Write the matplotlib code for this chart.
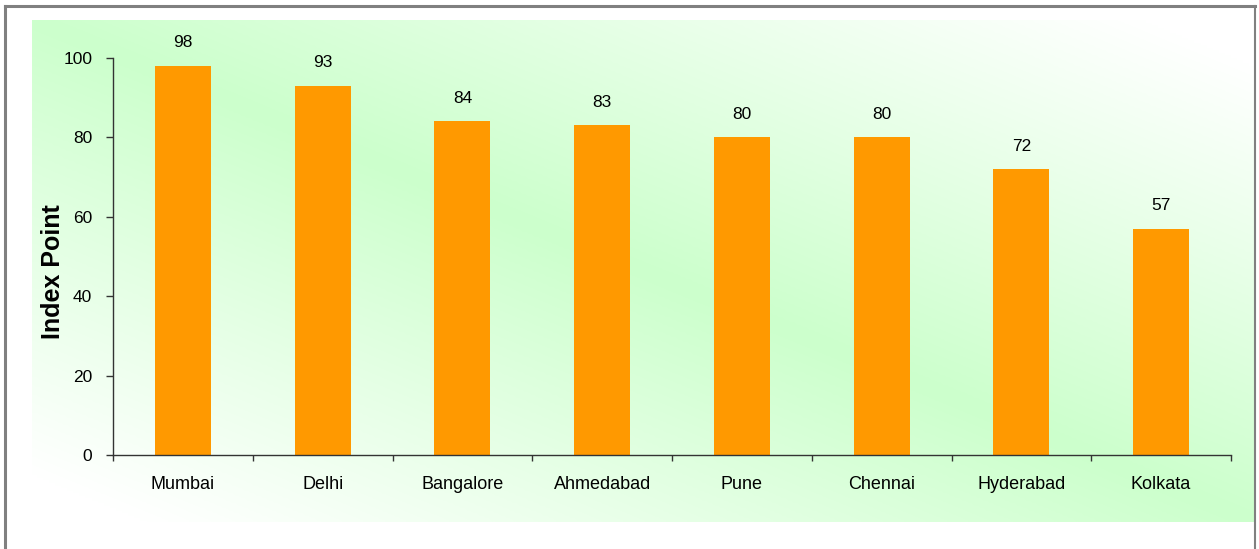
import numpy as np
import matplotlib
matplotlib.use("Agg")
import matplotlib.pyplot as plt
from matplotlib.lines import Line2D
from matplotlib.colors import LinearSegmentedColormap

cities = ["Mumbai", "Delhi", "Bangalore", "Ahmedabad", "Pune", "Chennai", "Hyderabad", "Kolkata"]
values = [98, 93, 84, 83, 80, 80, 72, 57]
yticks = [0, 20, 40, 60, 80, 100]
ylabel = "Index Point"

plt.rcParams['font.family'] = ['Liberation Sans', 'DejaVu Sans']

W, H = 1259, 549
fig = plt.figure(figsize=(W / 100, H / 100), dpi=100)

# gradient background of plot area
bx0, bx1, by0, by1 = 32, 1254, 20, 522
bg = fig.add_axes([bx0 / W, 1 - by1 / H, (bx1 - bx0) / W, (by1 - by0) / H], zorder=0)
u = np.linspace(0, 1, 400)
v = np.linspace(0, 1, 200)
U, V = np.meshgrid(u, v)
S = np.clip(np.abs(U - V) * 1.1, 0, 1)
cmap = LinearSegmentedColormap.from_list("g", ["#CCFFCC", "#FFFFFF"])
bg.imshow(S, cmap=cmap, vmin=0, vmax=1, aspect='auto', extent=[0, 1, 1, 0], interpolation='bilinear')
bg.set_axis_off()

# main axes
ax_l, ax_r, ax_t, ax_b = 113, 1231, 57.7, 455
ax = fig.add_axes([ax_l / W, 1 - ax_b / H, (ax_r - ax_l) / W, (ax_b - ax_t) / H], zorder=1)
ax.patch.set_alpha(0)

x = np.arange(len(cities))
bars = ax.bar(x, values, width=0.4, color="#FF9900", zorder=2)
for xi, val in zip(x, values):
    ax.annotate(f"{val}", (xi, val), xytext=(0, 11), textcoords='offset points',
                ha='center', va='bottom', fontsize=12.5, color='black')

ax.set_xlim(-0.5, len(cities) - 0.5)
ax.set_ylim(0, 100)
ax.set_yticks(yticks)
ax.tick_params(axis='y', direction='out', length=5, width=1, pad=10, labelsize=12.5, color='#333333')
ax.set_xticks(x)
ax.set_xticklabels(cities)
ax.tick_params(axis='x', which='major', length=0, pad=15, labelsize=13)
ax.set_xticks(np.arange(-0.5, len(cities)), minor=True)
ax.tick_params(axis='x', which='minor', direction='out', length=4.5, width=1, color='#333333')
for s in ['top', 'right']:
    ax.spines[s].set_visible(False)
for s in ['left', 'bottom']:
    ax.spines[s].set_color('#333333')
    ax.spines[s].set_linewidth(1)

fig.text(52.5 / W, 1 - 272 / H, ylabel, rotation=90, fontsize=18, fontweight='bold',
         ha='center', va='center')

# figure border (left, top, right)
bc = '#808080'
fig.add_artist(Line2D([5 / W, 5 / W], [0, 1 - 5.5 / H], color=bc, lw=2.2, transform=fig.transFigure))
fig.add_artist(Line2D([5 / W, 1255 / W], [1 - 5.5 / H, 1 - 5.5 / H], color=bc, lw=2.2, transform=fig.transFigure))
fig.add_artist(Line2D([1255 / W, 1255 / W], [0, 1 - 5.5 / H], color=bc, lw=1.5, transform=fig.transFigure))

fig.savefig("out.png", dpi=100, facecolor='white')
